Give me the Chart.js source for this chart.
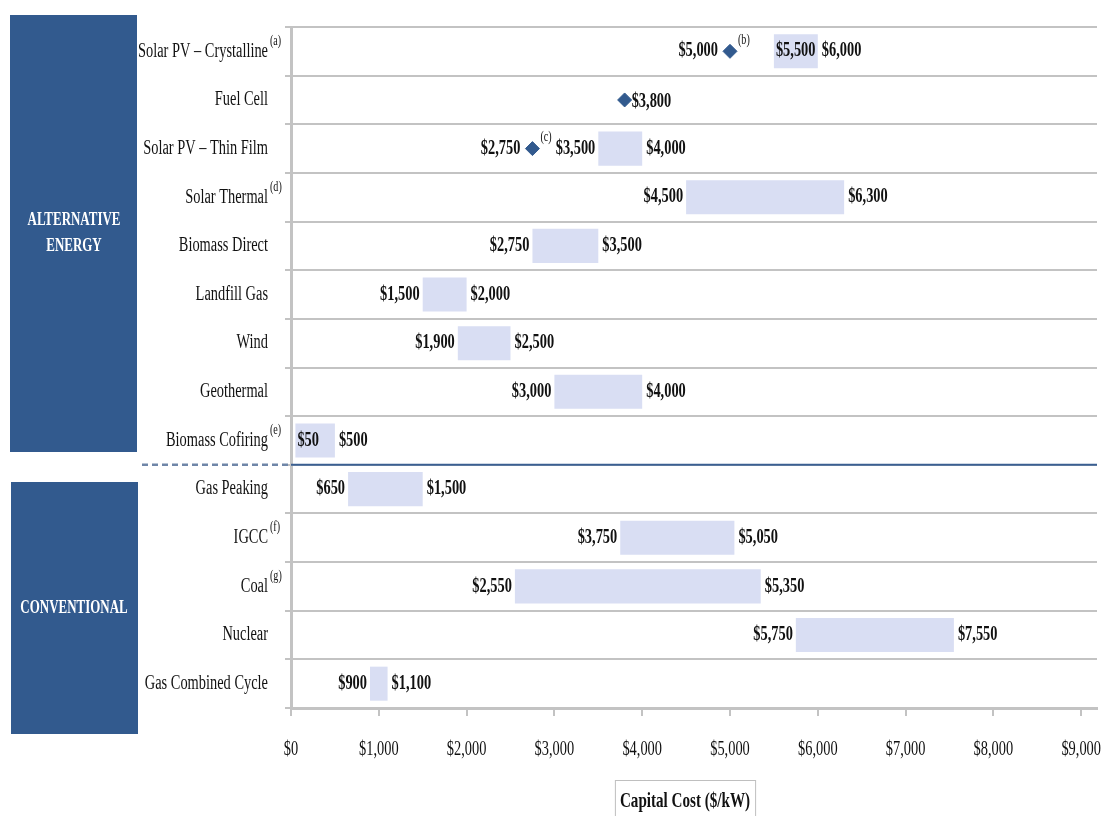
<!DOCTYPE html>
<html>
<head>
<meta charset="utf-8">
<script src="https://cdn.jsdelivr.net/npm/chart.js@4.4.0/dist/chart.umd.min.js"></script>
<style>
html,body{margin:0;padding:0;background:#fff;}
#wrap{position:relative;width:1105px;height:816px;}
</style>
</head>
<body>
<div id="wrap"><canvas id="c"></canvas></div>
<script>
// ---- data ----
const categories = ["Solar PV – Crystalline","Fuel Cell","Solar PV – Thin Film","Solar Thermal","Biomass Direct","Landfill Gas","Wind","Geothermal","Biomass Cofiring","Gas Peaking","IGCC","Coal","Nuclear","Gas Combined Cycle"];
const categoryNotes = ["(a)","","","(d)","","","","","(e)","","(f)","(g)","",""];
const lowValues  = [5500, null, 3500, 4500, 2750, 1500, 1900, 3000, 50, 650, 3750, 2550, 5750, 900];
const highValues = [6000, null, 4000, 6300, 3500, 2000, 2500, 4000, 500, 1500, 5050, 5350, 7550, 1100];
const pointCategories = ["Solar PV – Crystalline","Fuel Cell","Solar PV – Thin Film"];
const pointValues = [5000, 3800, 2750];
const pointNotes = ["(b)","","(c)"];
const groups = [
  {name:["ALTERNATIVE","ENERGY"], first:0, last:8},
  {name:["CONVENTIONAL"], first:9, last:13}
];
const xTicks = [0,1000,2000,3000,4000,5000,6000,7000,8000,9000];
const axisTitle = "Capital Cost ($/kW)";

// ---- styles ----
const BLUE = "#325A8E";
const BAR = "#D9DEF3";
const GRID = "#C3C3C3";
const FONT = "'Liberation Serif', 'DejaVu Serif', serif";
const SX = 0.72; // horizontal condensing of text
const lowInside = new Set([0, 8]);

function fmt(v){ return "$" + v.toLocaleString("en-US"); }

function drawText(ctx, text, x, y, align, size, weight, color){
  ctx.save();
  ctx.font = (weight||"normal") + " " + size + "px " + FONT;
  ctx.fillStyle = color || "#111";
  ctx.textBaseline = "middle";
  const w = ctx.measureText(text).width * SX;
  let left = x;
  if (align === "right") left = x - w;
  else if (align === "center") left = x - w/2;
  ctx.translate(left, y);
  ctx.scale(SX, 1);
  ctx.textAlign = "left";
  ctx.fillText(text, 0, 0);
  ctx.restore();
  return w;
}

const decor = {
  id: "decor",
  beforeDraw(chart){
    const ctx = chart.ctx;
    ctx.save();
    ctx.fillStyle = BLUE;
    ctx.fillRect(10, 15, 127, 437);
    ctx.fillRect(11, 482, 127, 252);
    ctx.restore();
    groups.forEach((g, gi) => {
      const cy = gi === 0 ? 233 : 608;
      const n = g.name.length;
      g.name.forEach((line, i) => {
        drawText(ctx, line, 74, cy + (i - (n-1)/2) * 26, "center", 18, "bold", "#fff");
      });
    });
  },
  afterDatasetsDraw(chart){
    const ctx = chart.ctx;
    const xs = chart.scales.x, ys = chart.scales.y, a = chart.chartArea;
    const sepY = (ys.getPixelForValue(8) + ys.getPixelForValue(9)) / 2;
    ctx.save();
    ctx.strokeStyle = "#3A5F92";
    ctx.lineWidth = 2;
    ctx.beginPath(); ctx.moveTo(a.left, sepY); ctx.lineTo(a.right, sepY); ctx.stroke();
    ctx.strokeStyle = "#6F86A8";
    ctx.setLineDash([6, 4]);
    ctx.lineWidth = 2.5;
    ctx.beginPath(); ctx.moveTo(142, sepY); ctx.lineTo(a.left, sepY); ctx.stroke();
    ctx.restore();
    categories.forEach((c, i) => {
      const py = ys.getPixelForValue(i);
      drawText(ctx, c, 268, py, "right", 20, "normal", "#111");
      if (categoryNotes[i]) drawText(ctx, categoryNotes[i], 270, py - 10, "left", 14, "normal", "#111");
    });
    lowValues.forEach((lo, i) => {
      if (lo == null) return;
      const hi = highValues[i];
      const py = ys.getPixelForValue(i);
      const x0 = xs.getPixelForValue(lo), x1 = xs.getPixelForValue(hi);
      if (lowInside.has(i)) drawText(ctx, fmt(lo), x0 + 2, py, "left", 20, "bold", "#111");
      else drawText(ctx, fmt(lo), x0 - 3, py, "right", 20, "bold", "#111");
      drawText(ctx, fmt(hi), x1 + 4, py, "left", 20, "bold", "#111");
    });
    pointValues.forEach((v, i) => {
      const idx = categories.indexOf(pointCategories[i]);
      const py = ys.getPixelForValue(idx);
      const px = xs.getPixelForValue(v);
      if (pointNotes[i]) {
        drawText(ctx, fmt(v), px - 12, py, "right", 20, "bold", "#111");
        drawText(ctx, pointNotes[i], px + 8, py - 11, "left", 14, "normal", "#111");
      } else {
        drawText(ctx, fmt(v), px + 7, py + 2, "left", 20, "bold", "#111");
      }
    });
    xTicks.forEach(t => {
      drawText(ctx, fmt(t), xs.getPixelForValue(t), 750, "center", 20, "normal", "#111");
    });
    ctx.save();
    ctx.font = "bold 21px " + FONT;
    const tw = ctx.measureText(axisTitle).width * SX;
    const cx = 685;
    ctx.strokeStyle = "#BFBFBF";
    ctx.lineWidth = 1;
    ctx.strokeRect(cx - tw/2 - 5 + 0.5, 780.5, tw + 10, 40);
    ctx.restore();
    drawText(ctx, axisTitle, cx, 802, "center", 21, "bold", "#111");
  }
};

const barData = lowValues.map((lo, i) => lo == null ? null : [lo, highValues[i]]);
const pointData = pointValues.map((v, i) => ({x: v, y: pointCategories[i]}));

new Chart(document.getElementById("c"), {
  type: "bar",
  data: {
    labels: categories,
    datasets: [
      {
        type: "bar",
        data: barData,
        backgroundColor: BAR,
        borderWidth: 0,
        categoryPercentage: 1,
        barPercentage: 0.7,
        order: 2
      },
      {
        type: "line",
        data: pointData,
        showLine: false,
        pointStyle: "rectRot",
        pointRadius: 7,
        pointHoverRadius: 7,
        backgroundColor: BLUE,
        borderColor: BLUE,
        borderWidth: 1,
        order: 1
      }
    ]
  },
  options: {
    indexAxis: "y",
    responsive: true,
    maintainAspectRatio: false,
    animation: false,
    devicePixelRatio: 1,
    layout: { padding: { top: 27, right: 3, left: 0, bottom: 0 } },
    plugins: { legend: { display: false }, tooltip: { enabled: false } },
    scales: {
      x: {
        type: "linear",
        min: 0,
        max: 9180,
        afterBuildTicks: s => { s.ticks = xTicks.map(v => ({value: v})); },
        afterFit: s => { s.height = 108; },
        ticks: { display: false },
        grid: { drawOnChartArea: false, drawTicks: true, tickLength: 8, color: GRID, lineWidth: 2 },
        border: { display: true, color: GRID, width: 3 }
      },
      y: {
        type: "category",
        offset: true,
        afterFit: s => { s.width = 291; },
        ticks: { display: false },
        grid: { offset: true, drawTicks: true, tickLength: 6, color: GRID, lineWidth: 2 },
        border: { display: true, color: GRID, width: 3 }
      }
    }
  },
  plugins: [decor]
});
</script>
</body>
</html>
